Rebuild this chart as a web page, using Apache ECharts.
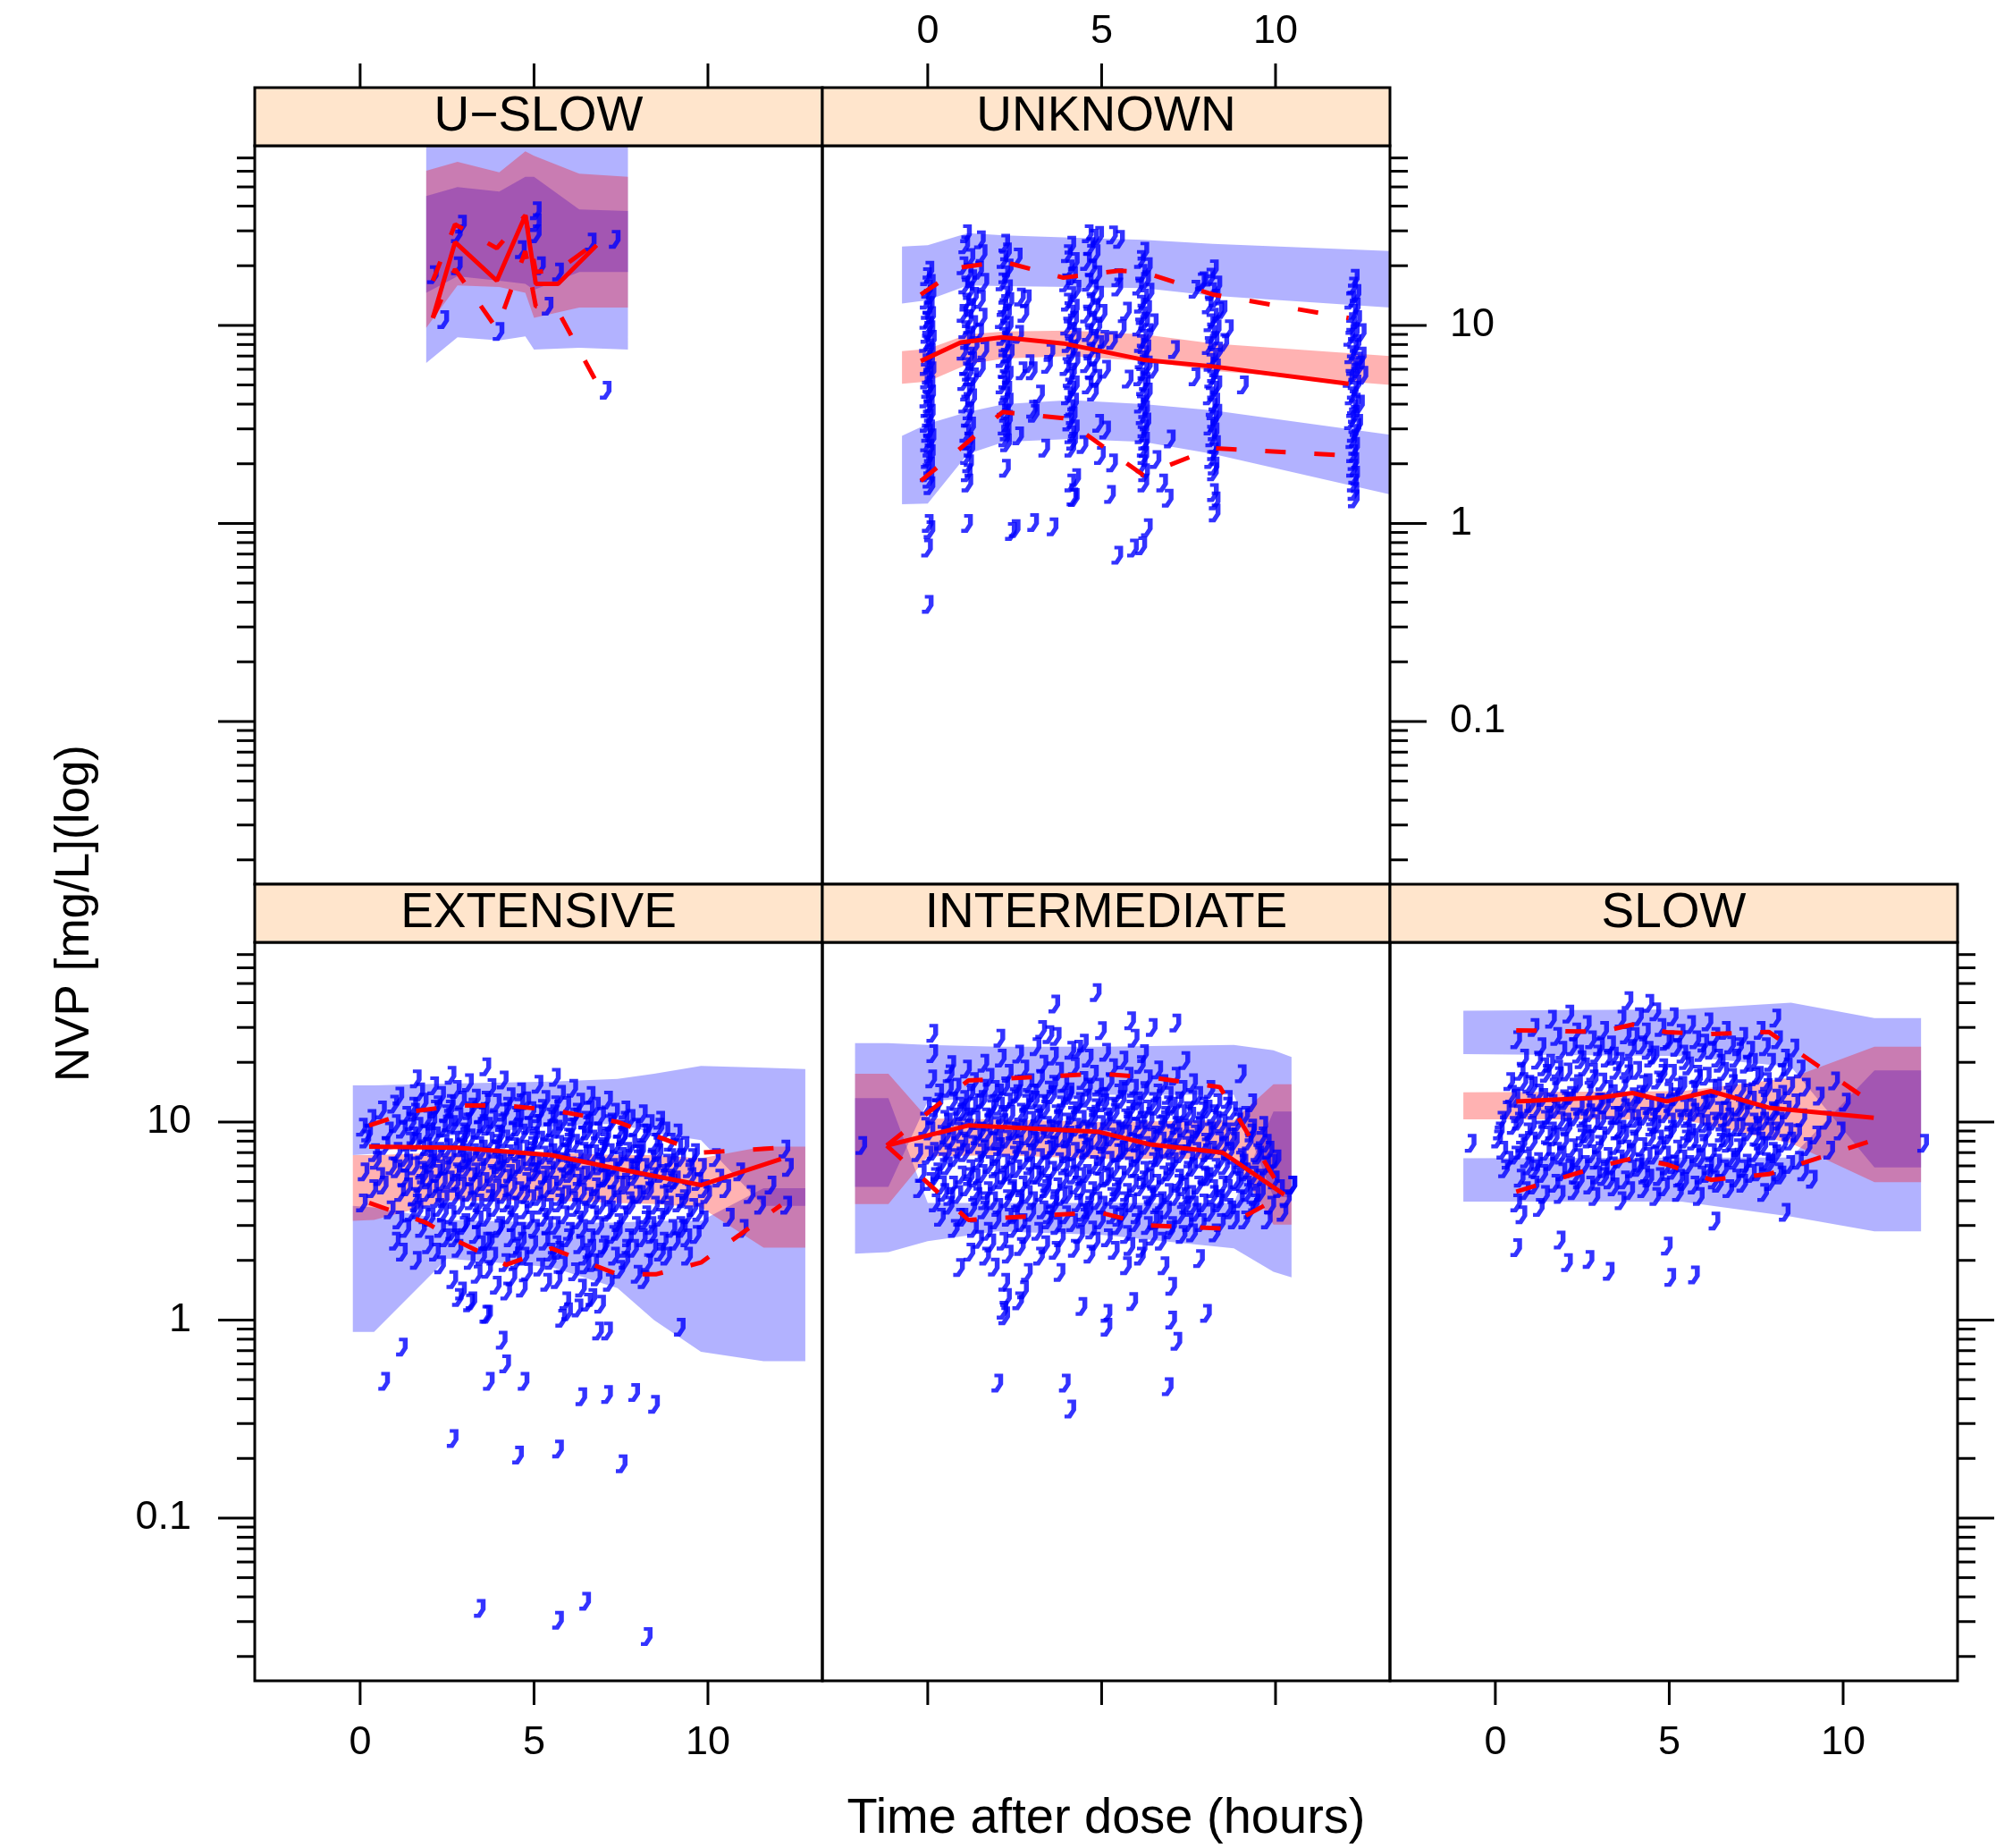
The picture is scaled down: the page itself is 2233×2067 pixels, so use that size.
<!DOCTYPE html>
<html><head><meta charset="utf-8">
<script src="https://cdn.jsdelivr.net/npm/echarts@6/dist/echarts.min.js"></script>
<style>html,body{margin:0;padding:0;background:#fff}#c{width:2233px;height:2067px}</style>
</head><body><div id="c"></div>
<script>
// ---------------- text / ticks ----------------
const panelNames = ['U\u2212SLOW', 'UNKNOWN', 'EXTENSIVE', 'INTERMEDIATE', 'SLOW'];
const xTitle = 'Time after dose (hours)';
const yTitle = 'NVP [mg/L](log)';
const xTicks = [0, 5, 10];
const xTickLabels = ['0', '5', '10'];
const yMajorTicks = [0.1, 1, 10];
const yTickLabels = ['0.1', '1', '10'];
const yMinorTicks = [0.02,0.03,0.04,0.05,0.06,0.07,0.08,0.09,0.2,0.3,0.4,0.5,0.6,0.7,0.8,0.9,2,3,4,5,6,7,8,9,20,30,40,50,60,70];

// ---------------- U-SLOW ----------------
const usBandX = [1.9, 2.8, 4.0, 4.75, 5.0, 6.3, 7.7];
const usP95Hi = [100, 100, 100, 100, 100, 100, 100];
const usP95Lo = [14.6, 17.7, 16.8, 16.2, 15.1, 18.6, 18.6];
const usMedHi = [60.4, 67, 59.3, 75.7, 71.8, 58.3, 56.3];
const usMedLo = [9.7, 15.9, 15.6, 14.6, 10.9, 12.3, 12.3];
const usP5Hi = [45, 49.9, 47.4, 56.3, 56.3, 38.5, 37.8];
const usP5Lo = [6.46, 8.7, 8.4, 8.8, 7.55, 7.7, 7.55];
const usObsMed = [[2.09,10.9],[2.73,26.3],[3.93,16.8],[4.75,35.9],[5.05,16.2],[5.69,16.2],[6.8,25.4]];
const usObsP95 = [[2.09,16.8],[2.73,32.4],[3.93,24.5],[4.75,35.9],[5.05,18.6],[5.69,19],[6.8,26.3]];
const usObsP5 = [[2.09,10.9],[2.73,19.2],[3.93,9.6],[4.75,23.7],[5.05,12.5],[5.69,11.8],[6.8,5.15]];
const usPts = [[2.9,32.4],[2.78,29],[5.05,37.9],[5.05,29],[4.62,24.1],[6.63,26.3],[7.32,27.2],[2.09,18],[5.17,20],[5.69,18.6],[5.39,12.5],[2.39,10.7],[3.98,9.3],[7.06,4.7],[2.78,20],[5.05,33]];

// ---------------- UNKNOWN ----------------
const unBandX = [-0.74, 0.0, 1.15, 2.2, 4.1, 6.2, 8.2, 13.3];
const unP95Hi = [25, 25.4, 29.2, 28.5, 27.7, 27, 25.8, 23.7];
const unP95Lo = [12.9, 13.4, 15.9, 15.8, 15.6, 15.4, 14.1, 12.3];
const unMedHi = [7.4, 7.6, 9.0, 9.3, 9.4, 9.0, 8.1, 7.0];
const unMedLo = [5.07, 5.2, 6.35, 6.8, 7.0, 6.6, 5.9, 5.0];
const unP5Hi = [2.77, 3.18, 3.65, 4.0, 4.19, 4.0, 3.72, 2.8];
const unP5Lo = [1.25, 1.26, 2.24, 2.58, 2.67, 2.58, 2.24, 1.4];
const unObsMed = [[-0.2,6.6],[0.95,8.2],[2.15,8.7],[3.9,8.1],[6.2,6.7],[8.2,6.2],[12.1,5.07]];
const unObsP95 = [[-0.2,14.3],[0.95,19.6],[2.15,21],[3.9,17.4],[5.5,18.9],[6.2,18.6],[8.2,14.3],[12.1,10.9]];
const unObsP5 = [[-0.2,1.64],[0.95,2.4],[2.15,3.65],[3.9,3.4],[6.2,1.75],[8.2,2.4],[12.1,2.2]];
const unPts = [
[0.02,19],[-0.05,17.6],[0.06,16.3],[-0.02,15.2],[0.08,14.3],[-0.06,13.4],[0.03,12.6],[-0.03,11.9],[0.07,11.2],[-0.07,10.6],[0.01,10],[0.05,9.5],[-0.04,9],[0.09,8.5],[-0.08,8.1],[0.02,7.7],[0.06,7.3],[-0.03,6.9],[0.04,6.5],[-0.06,6.2],[0.08,5.9],[0,5.6],[-0.05,5.3],[0.05,5],[-0.02,4.75],[0.07,4.5],[-0.07,4.25],[0.03,4],[-0.04,3.8],[0.06,3.6],[0,3.4],[-0.06,3.2],[0.04,3],[-0.02,2.85],[0.08,2.7],[-0.05,2.55],[0.02,2.4],[0.06,2.25],[-0.03,2.1],[0.04,1.95],[-0.06,1.8],[0.02,1.67],[0.05,1.55],[0,1.0],[0.05,0.93],[-0.02,0.75],[0,0.39],
[1.1,29],[1.05,25.5],[1.2,22],[1.0,20],[1.15,18.5],[1.25,17.2],[1.05,16],[1.18,15],[1.3,14],[1.08,13.1],[1.22,12.3],[1.0,11.5],[1.15,10.8],[1.28,10.1],[1.05,9.5],[1.2,8.9],[1.1,8.4],[1.32,7.9],[1.0,7.4],[1.18,7],[1.25,6.6],[1.07,6.2],[1.15,5.8],[1.3,5.5],[1.02,5.2],[1.2,4.9],[1.1,4.6],[1.25,4.3],[1.05,4],[1.17,3.7],[1.12,3.4],[1.22,3.1],[1.08,2.85],[1.15,2.6],[1.2,2.4],[1.1,2.2],[1.16,2.0],[1.12,1.8],[1.14,1.6],[1.13,1.0],
[1.5,27],[1.55,23],[1.45,19],[1.6,16.5],[1.5,13.5],[1.55,11],[1.45,9.2],[1.6,7.5],[1.5,6.1],
[2.2,26],[2.25,23.5],[2.15,21.5],[2.3,19.5],[2.2,18],[2.12,16.6],[2.28,15.3],[2.2,14.2],[2.32,13.2],[2.15,12.3],[2.25,11.5],[2.1,10.7],[2.3,10],[2.2,9.4],[2.14,8.8],[2.27,8.2],[2.2,7.7],[2.33,7.2],[2.12,6.8],[2.24,6.4],[2.18,6],[2.3,5.6],[2.2,5.3],[2.12,5],[2.26,4.7],[2.2,4.4],[2.3,4.1],[2.15,3.85],[2.22,3.6],[2.28,3.35],[2.18,3.1],[2.24,2.9],[2.2,2.7],[2.25,2.55],[2.22,1.9],
[2.65,13.9],[2.7,5.9],[3.43,6.35],[3.5,7.3],[3.0,3.77],[3.05,3.6],[3.35,2.4],[2.6,2.77],[2.39,0.91],[3.03,1.01],[3.59,0.96],[2.6,9.0],[2.75,11.5],[2.56,22.1],[2.82,13.6],[2.9,6.4],[2.99,5.9],[3.2,4.5],[2.5,0.94],
[4.1,25.4],[4.0,23],[4.2,21],[4.05,19.3],[4.15,17.8],[3.95,16.4],[4.25,15.2],[4.1,14.1],[4.0,13.1],[4.2,12.2],[4.08,11.4],[4.18,10.6],[3.98,9.9],[4.12,9.3],[4.25,8.7],[4.02,8.1],[4.15,7.6],[4.08,7.1],[4.22,6.6],[3.96,6.2],[4.12,5.8],[4.05,5.4],[4.2,5.0],[4.1,4.7],[4.0,4.4],[4.18,4.1],[4.08,3.8],[4.14,3.5],[4.04,3.25],[4.2,3.0],[4.1,2.8],[4.15,2.6],[4.1,2.4],[4.1,1.6],[4.2,1.35],[4.24,1.7],[4.16,1.36],
[4.6,29],[4.75,27.5],[4.9,28.5],[4.65,25],[4.8,23],[4.55,21],[4.7,19.5],[4.85,18],[4.6,16.5],[4.75,15.3],[4.9,14.2],[4.65,13.2],[4.8,12.3],[4.55,11.4],[4.7,10.6],[4.85,9.9],[4.6,9.2],[4.75,8.6],[4.9,8.0],[4.65,7.4],[4.8,6.9],[4.55,6.4],[4.7,5.9],[4.85,5.4],[4.6,5.0],[4.75,4.6],[4.9,3.2],[4.45,2.5],[4.95,2.2],[5.0,11.5],[5.05,8.5],[5.1,6.0],
[6.2,23.7],[6.1,21.5],[6.3,19.8],[6.15,18.3],[6.25,17],[6.05,15.8],[6.35,14.7],[6.2,13.7],[6.1,12.8],[6.28,12],[6.15,11.2],[6.22,10.5],[6.05,9.8],[6.32,9.2],[6.18,8.6],[6.1,8.1],[6.26,7.6],[6.2,7.1],[6.12,6.7],[6.3,6.3],[6.2,5.9],[6.08,5.5],[6.24,5.2],[6.16,4.9],[6.3,4.6],[6.2,4.3],[6.1,4.0],[6.22,3.75],[6.15,3.5],[6.26,3.25],[6.2,3.0],[6.12,2.8],[6.22,2.6],[6.18,2.4],[6.2,2.2],[6.15,2.0],[6.22,1.8],[6.2,1.6],
[5.3,28.6],[5.5,27.2],[5.45,17.4],[5.45,15.6],[5.7,11.8],[5.55,9.6],[5.3,8.4],[7.08,7.55],[7.67,5.5],[5.75,5.35],[6.47,10.3],[6.47,6.0],[5.1,2.96],[5.3,2.02],[6.96,2.67],[6.74,1.6],[6.9,1.34],[5.24,1.4],[6.3,0.95],[6.14,0.77],[5.45,0.69],[9.06,5.0],[8.63,9.6],[7.67,15.2],[7.85,16.6],[5.9,0.75],[6.55,2.1],
[8.2,19.3],[8.1,17.5],[8.3,16],[8.15,14.8],[8.25,13.7],[8.05,12.7],[8.35,11.8],[8.2,11],[8.1,10.3],[8.28,9.6],[8.15,9],[8.22,8.4],[8.05,7.9],[8.32,7.4],[8.18,6.9],[8.1,6.5],[8.26,6.1],[8.2,5.7],[8.12,5.35],[8.3,5.0],[8.2,4.7],[8.08,4.4],[8.24,4.1],[8.16,3.85],[8.3,3.6],[8.2,3.35],[8.1,3.1],[8.22,2.9],[8.15,2.7],[8.26,2.5],[8.2,2.3],[8.12,2.1],[8.22,1.95],[8.2,1.82],[8.2,1.43],[8.25,1.13],[8.25,1.3],[7.9,16.8],[8.45,12],[8.5,8.2],
[12.25,17.3],[12.2,15.8],[12.3,14.5],[12.15,13.4],[12.28,12.4],[12.2,11.5],[12.32,10.7],[12.18,10],[12.25,9.3],[12.12,8.7],[12.3,8.1],[12.22,7.6],[12.15,7.1],[12.34,6.6],[12.2,6.2],[12.26,5.8],[12.1,5.4],[12.3,5.05],[12.22,4.7],[12.16,4.4],[12.28,4.1],[12.2,3.8],[12.25,3.55],[12.14,3.3],[12.3,3.05],[12.22,2.85],[12.18,2.65],[12.26,2.45],[12.2,2.25],[12.24,2.05],[12.2,1.9],[12.26,1.75],[12.22,1.6],[12.24,1.45],[12.25,1.33],[12.45,7.0],[12.5,5.6],[12.4,4.0],[12.45,9.2],[12.4,6.3],[12.35,3.2]
];

// ---------------- EXTENSIVE ----------------
const exBandX = [-0.21, 0.4, 2.5, 5.5, 7.4, 8.45, 9.8, 11.6, 12.8];
const exP95Hi = [15.3, 15.3, 15.6, 16.0, 16.5, 17.5, 19.2, 18.8, 18.5];
const exP95Lo = [6.8, 6.9, 8.5, 9.5, 9.8, 8.8, 8.1, 3.77, 3.77];
const exMedHi = [6.8, 6.8, 7.0, 7.0, 6.8, 6.8, 6.55, 7.5, 7.5];
const exMedLo = [3.17, 3.2, 4.0, 4.0, 3.9, 3.85, 3.7, 2.32, 2.32];
const exP5Hi = [3.77, 3.7, 3.2, 3.1, 3.1, 3.17, 3.17, 4.63, 4.63];
const exP5Lo = [0.87, 0.87, 2.04, 1.85, 1.45, 1.0, 0.69, 0.62, 0.62];
const exObsMed = [[0.26,7.5],[2.8,7.4],[5.5,6.8],[7.4,5.8],[9.8,4.8],[12.1,6.5]];
const exObsP95 = [[0.26,9.6],[1.5,11.3],[2.8,12.1],[4.2,12.1],[5.5,11.5],[7.4,10.0],[9.8,7.0],[12.1,7.4]];
const exObsP5 = [[0.26,3.9],[1.9,3.1],[2.8,2.5],[4.2,1.9],[5.5,2.3],[7.4,1.7],[8.5,1.7],[9.8,1.95],[12.1,3.8]];
const exPts = [
[0.05,9.4],[0.3,10.4],[0.15,8.2],[0.4,7.0],[0.1,5.6],[0.35,4.6],[0.05,3.9],[0.45,6.4],[0.2,8.8],
[0.6,11.5],[0.8,9.0],[0.7,7.6],[0.9,6.0],[0.65,4.8],[0.85,3.6],[0.95,12.3],[0.55,5.3],
[1.1,13.5],[1.3,10.8],[1.2,9.2],[1.4,8.0],[1.05,7.1],[1.35,6.2],[1.25,5.2],[1.15,4.4],[1.45,3.5],[1.3,2.9],[1.0,2.5],[1.2,2.2],
[1.6,16.5],[1.7,14.2],[1.8,12.6],[1.55,11.2],[1.9,10.4],[1.65,9.5],[1.85,8.7],[1.6,7.9],[1.75,7.2],[1.95,6.6],[1.55,6.0],[1.8,5.4],[1.7,4.9],[1.9,4.4],[1.6,3.9],[1.85,3.4],[1.75,2.9],[1.95,2.4],[1.6,2.0],
[2.1,15.2],[2.3,13.6],[2.2,12.2],[2.45,11.0],[2.05,10.1],[2.35,9.3],[2.15,8.5],[2.4,7.8],[2.25,7.1],[2.05,6.5],[2.45,6.0],[2.2,5.5],[2.35,5.0],[2.1,4.6],[2.4,4.1],[2.25,3.7],[2.0,3.3],[2.3,2.9],[2.45,2.6],[2.15,2.2],[2.3,1.9],
[2.6,17.2],[2.75,14.6],[2.9,12.9],[2.55,11.6],[2.8,10.6],[2.65,9.7],[2.95,8.9],[2.7,8.1],[2.85,7.4],[2.6,6.8],[2.95,6.2],[2.75,5.6],[2.55,5.1],[2.9,4.7],[2.7,4.2],[2.85,3.8],[2.6,3.4],[2.95,3.0],[2.7,2.6],[2.8,2.3],[2.65,1.6],[2.9,1.4],
[3.1,15.8],[3.3,13.2],[3.2,11.9],[3.45,10.9],[3.05,10.0],[3.35,9.1],[3.15,8.3],[3.4,7.6],[3.25,7.0],[3.05,6.4],[3.45,5.9],[3.2,5.3],[3.35,4.8],[3.1,4.4],[3.4,3.9],[3.25,3.5],[3.0,3.1],[3.3,2.7],[3.45,2.4],[3.15,2.0],[3.35,1.7],[3.2,1.25],
[3.6,19.0],[3.75,14.9],[3.9,12.5],[3.55,11.3],[3.8,10.3],[3.65,9.5],[3.95,8.7],[3.7,8.0],[3.85,7.3],[3.6,6.7],[3.95,6.1],[3.75,5.5],[3.55,5.0],[3.9,4.6],[3.7,4.1],[3.85,3.7],[3.6,3.3],[3.95,2.9],[3.7,2.5],[3.8,2.1],[3.65,1.8],[3.9,1.5],[3.6,1.07],
[4.1,16.3],[4.3,13.4],[4.2,12.0],[4.45,10.8],[4.05,9.9],[4.35,9.0],[4.15,8.2],[4.4,7.5],[4.25,6.9],[4.05,6.3],[4.45,5.8],[4.2,5.2],[4.35,4.7],[4.1,4.3],[4.4,3.8],[4.25,3.4],[4.0,3.0],[4.3,2.6],[4.45,2.3],[4.15,1.95],[4.35,1.65],[4.2,1.4],
[4.6,14.2],[4.75,12.8],[4.9,11.4],[4.55,10.5],[4.8,9.6],[4.65,8.8],[4.95,8.0],[4.7,7.3],[4.85,6.7],[4.6,6.1],[4.95,5.6],[4.75,5.0],[4.55,4.5],[4.9,4.1],[4.7,3.6],[4.85,3.2],[4.6,2.8],[4.95,2.4],[4.7,2.1],[4.8,1.75],[4.65,1.45],
[5.1,15.5],[5.3,13.0],[5.2,11.7],[5.45,10.6],[5.05,9.8],[5.35,8.9],[5.15,8.1],[5.4,7.4],[5.25,6.8],[5.05,6.2],[5.45,5.7],[5.2,5.1],[5.35,4.6],[5.1,4.2],[5.4,3.7],[5.25,3.3],[5.0,2.9],[5.3,2.5],[5.45,2.2],[5.15,1.85],[5.35,1.55],
[5.6,16.8],[5.75,13.8],[5.9,12.1],[5.55,11.0],[5.8,10.1],[5.65,9.2],[5.95,8.4],[5.7,7.7],[5.85,7.0],[5.6,6.4],[5.95,5.8],[5.75,5.3],[5.55,4.8],[5.9,4.3],[5.7,3.9],[5.85,3.4],[5.6,3.0],[5.95,2.6],[5.7,2.25],[5.8,1.9],[5.65,1.6],[5.9,1.25],
[6.1,14.8],[6.3,12.6],[6.2,11.2],[6.45,10.2],[6.05,9.4],[6.35,8.6],[6.15,7.8],[6.4,7.1],[6.25,6.5],[6.05,6.0],[6.45,5.4],[6.2,4.9],[6.35,4.4],[6.1,4.0],[6.4,3.6],[6.25,3.2],[6.0,2.8],[6.3,2.4],[6.45,2.1],[6.15,1.75],[6.35,1.45],[6.25,1.15],
[6.6,13.6],[6.75,12.0],[6.9,10.7],[6.55,9.8],[6.8,9.0],[6.65,8.2],[6.95,7.5],[6.7,6.9],[6.85,6.3],[6.6,5.7],[6.95,5.2],[6.75,4.7],[6.55,4.2],[6.9,3.8],[6.7,3.4],[6.85,3.0],[6.6,2.6],[6.95,2.3],[6.7,1.95],[6.8,1.65],[6.65,1.3],[6.9,1.2],
[7.1,12.9],[7.3,11.2],[7.2,10.0],[7.45,9.2],[7.05,8.5],[7.35,7.7],[7.15,7.0],[7.4,6.4],[7.25,5.9],[7.05,5.3],[7.45,4.8],[7.2,4.3],[7.35,3.9],[7.1,3.5],[7.4,3.1],[7.25,2.7],[7.0,2.4],[7.3,2.1],[7.45,1.8],[7.15,1.55],
[7.6,11.5],[7.75,10.4],[7.9,9.4],[7.55,8.6],[7.8,7.8],[7.65,7.1],[7.95,6.5],[7.7,5.9],[7.85,5.3],[7.6,4.8],[7.95,4.3],[7.75,3.8],[7.55,3.4],[7.9,3.0],[7.7,2.6],[7.85,2.3],[7.6,2.0],[7.95,1.7],
[8.1,11.0],[8.3,9.8],[8.2,8.8],[8.45,7.9],[8.05,7.2],[8.35,6.5],[8.15,5.9],[8.4,5.3],[8.25,4.8],[8.05,4.3],[8.45,3.8],[8.2,3.4],[8.35,3.0],[8.1,2.6],[8.4,2.3],[8.25,1.95],[8.15,1.6],
[8.6,10.2],[8.75,9.0],[8.9,7.9],[8.55,7.0],[8.8,6.2],[8.65,5.5],[8.95,4.9],[8.7,4.3],[8.85,3.8],[8.6,3.3],[8.95,2.9],[8.7,2.5],[8.8,2.1],
[9.1,8.8],[9.3,7.6],[9.2,6.6],[9.45,5.8],[9.05,5.1],[9.35,4.5],[9.15,3.9],[9.4,3.4],[9.25,2.9],[9.05,2.5],[9.4,2.1],
[9.6,7.0],[9.8,5.9],[9.7,5.0],[9.95,4.3],[9.55,3.7],[9.85,3.2],[9.65,2.7],
[10.3,5.2],[10.5,4.6],[10.9,5.6],[11.2,4.3],[11.5,3.8],[11.8,4.8],[12.2,7.3],[12.3,5.9],[12.25,3.8],[10.6,3.3],[11.0,2.9],[10.2,6.6],
[1.2,0.73],[0.69,0.49],[3.7,0.49],[4.7,0.49],[4.07,0.79],[4.17,0.6],[6.36,0.41],[7.1,0.42],[7.88,0.43],[8.45,0.375],[6.84,0.88],[7.1,0.88],[9.19,0.92],[3.65,1.07],[3.13,1.22],[2.81,1.3],[5.95,1.1],[6.52,1.23],[5.78,1.02],[2.66,0.252],[4.54,0.208],[5.69,0.223],[7.52,0.188],[3.44,0.035],[5.69,0.0305],[6.47,0.038],[8.24,0.0252]
];
const exPtsCore = [
[1.0,9.8],[1.5,8.5],[1.25,6.6],[1.75,5.7],[1.35,4.7],[1.65,3.6],[1.1,3.2],[1.45,10.0],[1.9,7.5],[1.5,12.0],[1.95,5.1],[1.55,4.2],[1.05,5.8],
[2.0,8.9],[2.5,7.4],[2.28,5.8],[2.72,4.9],[2.38,3.5],[2.62,2.8],[2.12,11.6],[2.52,9.9],[2.88,6.5],[2.18,4.1],[2.58,12.4],[2.92,8.1],[2.02,6.2],
[3.0,8.7],[3.5,7.3],[3.28,5.6],[3.72,4.4],[3.38,3.2],[3.62,2.5],[3.12,11.4],[3.52,9.8],[3.88,6.4],[3.18,4.0],[3.58,12.9],[3.92,7.8],[3.02,5.8],[3.48,2.1],
[4.0,8.6],[4.5,7.1],[4.28,5.5],[4.72,4.3],[4.38,3.1],[4.62,2.5],[4.12,11.2],[4.52,9.4],[4.88,6.3],[4.18,3.9],[4.58,12.5],[4.92,7.6],[4.02,5.7],[4.48,2.0],
[5.0,8.5],[5.5,7.0],[5.28,5.4],[5.72,4.2],[5.38,3.0],[5.62,2.4],[5.12,11.0],[5.52,9.3],[5.88,6.2],[5.18,3.8],[5.58,12.2],[5.92,7.5],[5.02,5.6],[5.48,2.0],
[6.0,8.3],[6.5,6.9],[6.28,5.3],[6.72,4.1],[6.38,2.9],[6.62,2.3],[6.12,10.6],[6.52,9.0],[6.88,6.0],[6.18,3.7],[6.58,11.5],[6.92,7.3],[6.02,5.5],[6.48,1.9],
[7.0,7.9],[7.5,6.7],[7.28,5.1],[7.72,4.0],[7.38,2.8],[7.62,2.3],[7.12,9.8],[7.52,8.4],[7.88,5.7],[7.18,3.6],[7.58,10.2],[7.92,6.9],[7.02,5.2],
[8.0,6.9],[8.5,6.0],[8.28,4.5],[8.72,3.6],[8.38,2.7],[8.62,2.2],[8.12,8.8],[8.52,7.6],[8.88,5.2],[8.18,3.2],[8.58,9.4],[8.92,6.6],
[9.0,6.0],[9.5,5.3],[9.28,4.1],[9.72,3.5],[9.38,2.6],[9.12,7.4],[9.52,6.6],[9.88,4.6],[9.18,3.0]
];

// ---------------- INTERMEDIATE ----------------
const inBandX = [-2.09, -1.13, 0.0, 2.0, 5.0, 8.8, 9.94, 10.46];
const inP95Hi = [25, 25, 24.5, 24, 24, 24.5, 23, 21.3];
const inP95Lo = [4.7, 4.7, 12.7, 13.5, 13.7, 13.7, 4.17, 4.17];
const inMedHi = [17.5, 17.5, 10.4, 10.3, 10.0, 10.2, 15.5, 15.5];
const inMedLo = [3.85, 3.85, 6.7, 6.8, 6.5, 6.5, 3.03, 3.03];
const inP5Hi = [13.2, 13.2, 3.9, 3.9, 3.9, 3.9, 11.3, 11.3];
const inP5Lo = [2.16, 2.2, 2.5, 2.8, 2.69, 2.3, 1.75, 1.64];
const inObsMed = [[-1.18,7.6],[1.17,9.6],[4.93,8.9],[6.39,7.7],[8.48,7.0],[10.25,4.3]];
const inObsP95 = [[-1.18,7.6],[1.17,16.2],[4.93,17.5],[6.39,16.8],[8.4,15.0],[10.25,4.3]];
const inObsP5 = [[-1.18,7.6],[1.17,3.2],[4.93,3.5],[6.39,3.0],[8.48,2.9],[10.25,4.3]];
const inPts = [
[-1.91,7.6],[10.46,4.8],
[-0.3,7.0],[-0.1,9.5],[-0.2,5.5],[-0.05,12.0],[-0.25,4.6],
[0.1,16.5],[0.3,14.0],[0.2,11.8],[0.45,10.3],[0.05,9.0],[0.35,8.0],[0.15,7.1],[0.4,6.3],[0.25,5.6],[0.05,5.0],[0.45,4.4],[0.2,3.9],[0.35,3.3],[0.13,28],[0.13,22.1],
[0.6,17.5],[0.8,15.0],[0.7,12.8],[0.95,11.2],[0.55,10.0],[0.85,9.0],[0.65,8.1],[0.9,7.3],[0.75,6.6],[0.55,6.0],[0.95,5.4],[0.7,4.8],[0.85,4.3],[0.6,3.8],[0.9,3.3],[0.75,2.9],[0.9,1.84],[0.65,19.5],
[1.1,18.5],[1.3,16.0],[1.2,14.0],[1.45,12.5],[1.05,11.3],[1.35,10.2],[1.15,9.3],[1.4,8.5],[1.25,7.7],[1.05,7.0],[1.45,6.4],[1.2,5.8],[1.35,5.2],[1.1,4.7],[1.4,4.2],[1.25,3.7],[1.0,3.3],[1.3,2.9],[1.45,2.55],[1.2,2.2],
[1.6,19.8],[1.75,16.8],[1.9,14.6],[1.55,13.0],[1.8,11.7],[1.65,10.6],[1.95,9.6],[1.7,8.8],[1.85,8.0],[1.6,7.3],[1.95,6.7],[1.75,6.1],[1.55,5.5],[1.9,5.0],[1.7,4.5],[1.85,4.0],[1.6,3.6],[1.95,3.2],[1.7,2.8],[1.8,2.45],[1.65,2.1],[1.9,1.85],[2.06,26.5],
[2.1,21],[2.3,17.6],[2.2,15.2],[2.45,13.4],[2.05,12.0],[2.35,10.9],[2.15,9.9],[2.4,9.0],[2.25,8.2],[2.05,7.5],[2.45,6.8],[2.2,6.2],[2.35,5.6],[2.1,5.1],[2.4,4.6],[2.25,4.1],[2.0,3.7],[2.3,3.3],[2.45,2.9],[2.15,2.5],[2.3,2.15],[2.2,1.55],[2.25,1.3],[2.15,1.12],[2.2,1.05],[2.0,0.48],
[2.6,22],[2.75,18.5],[2.9,15.8],[2.55,13.9],[2.8,12.4],[2.65,11.2],[2.95,10.2],[2.7,9.3],[2.85,8.5],[2.6,7.7],[2.95,7.0],[2.75,6.4],[2.55,5.8],[2.9,5.3],[2.7,4.8],[2.85,4.3],[2.6,3.9],[2.95,3.5],[2.7,3.1],[2.8,2.7],[2.65,2.35],[2.85,1.74],[2.74,1.42],[2.6,1.25],
[3.1,24],[3.26,29.3],[3.3,19.6],[3.2,16.6],[3.45,14.5],[3.05,12.9],[3.35,11.6],[3.15,10.5],[3.4,9.6],[3.25,8.7],[3.05,8.0],[3.45,7.2],[3.2,6.6],[3.35,6.0],[3.1,5.4],[3.4,4.9],[3.25,4.4],[3.0,4.0],[3.3,3.6],[3.45,3.2],[3.15,2.8],[3.35,2.4],[3.2,2.1],[3.47,27.6],
[3.64,39.4],[3.68,27],[3.6,21.5],[3.75,18.0],[3.9,15.6],[3.55,13.7],[3.8,12.2],[3.65,11.0],[3.95,10.0],[3.7,9.1],[3.85,8.3],[3.6,7.6],[3.95,6.9],[3.75,6.3],[3.55,5.7],[3.9,5.2],[3.7,4.7],[3.85,4.2],[3.6,3.8],[3.95,3.4],[3.7,3.0],[3.8,2.6],[3.65,2.25],[3.79,1.74],[3.94,0.48],
[4.1,23],[4.3,23.3],[4.46,25],[4.2,19.0],[4.45,16.2],[4.05,14.2],[4.35,12.7],[4.15,11.4],[4.4,10.3],[4.25,9.4],[4.05,8.6],[4.45,7.8],[4.2,7.1],[4.35,6.5],[4.1,5.9],[4.4,5.3],[4.25,4.8],[4.0,4.3],[4.3,3.9],[4.45,3.5],[4.15,3.1],[4.35,2.7],[4.2,2.3],[4.42,1.17],[4.1,0.355],
[4.83,45],[4.98,28.9],[4.6,21],[4.75,17.4],[4.9,15.0],[4.55,13.2],[4.8,11.8],[4.65,10.7],[4.95,9.7],[4.7,8.9],[4.85,8.1],[4.6,7.4],[4.95,6.7],[4.75,6.1],[4.55,5.5],[4.9,5.0],[4.7,4.5],[4.85,4.0],[4.6,3.6],[4.95,3.2],[4.7,2.85],[4.8,2.5],[4.65,2.15],
[5.1,22.5],[5.3,18.8],[5.2,16.0],[5.45,14.0],[5.05,12.5],[5.35,11.2],[5.15,10.1],[5.4,9.2],[5.25,8.4],[5.05,7.7],[5.45,7.0],[5.2,6.4],[5.35,5.8],[5.1,5.2],[5.4,4.7],[5.25,4.2],[5.0,3.8],[5.3,3.4],[5.45,3.0],[5.15,2.6],[5.35,2.25],[5.14,1.08],[5.14,0.92],
[5.82,32.4],[5.92,26.5],[5.6,20.5],[5.75,17.0],[5.9,14.8],[5.55,13.0],[5.8,11.6],[5.65,10.5],[5.95,9.5],[5.7,8.7],[5.85,7.9],[5.6,7.2],[5.95,6.6],[5.75,6.0],[5.55,5.4],[5.9,4.9],[5.7,4.4],[5.85,3.9],[5.6,3.5],[5.95,3.1],[5.7,2.7],[5.8,2.35],[5.7,1.88],[5.88,1.24],
[6.44,30],[6.19,22.1],[6.1,19.5],[6.3,16.5],[6.2,14.4],[6.45,12.7],[6.05,11.3],[6.35,10.2],[6.15,9.2],[6.4,8.4],[6.25,7.6],[6.05,6.9],[6.45,6.3],[6.2,5.7],[6.35,5.2],[6.1,4.7],[6.4,4.2],[6.25,3.8],[6.0,3.4],[6.3,3.0],[6.45,2.65],[6.15,2.3],[6.1,2.1],
[6.6,18.3],[6.75,15.6],[6.9,13.6],[6.55,12.0],[6.8,10.8],[6.65,9.7],[6.95,8.8],[6.7,8.0],[6.85,7.3],[6.6,6.6],[6.95,6.0],[6.75,5.4],[6.55,4.9],[6.9,4.4],[6.7,4.0],[6.85,3.6],[6.6,3.2],[6.95,2.85],[6.7,2.5],[6.78,1.88],[7.0,1.48],[7.0,1.0],[6.9,0.46],
[7.12,31.6],[7.38,20.4],[7.1,17.0],[7.3,14.6],[7.2,12.8],[7.45,11.4],[7.05,10.3],[7.35,9.3],[7.15,8.4],[7.4,7.6],[7.25,6.9],[7.05,6.3],[7.45,5.7],[7.2,5.2],[7.35,4.7],[7.1,4.2],[7.4,3.8],[7.25,3.4],[7.0,3.0],[7.3,2.7],[7.15,0.78],
[7.6,15.8],[7.75,13.6],[7.9,12.0],[7.55,10.7],[7.8,9.6],[7.65,8.7],[7.95,7.9],[7.7,7.1],[7.85,6.5],[7.6,5.9],[7.95,5.3],[7.75,4.8],[7.55,4.3],[7.9,3.9],[7.7,3.5],[7.85,3.1],[7.6,2.75],[7.8,2.04],[8.0,1.08],
[8.1,14.6],[8.3,12.5],[8.2,11.0],[8.45,9.8],[8.05,8.9],[8.35,8.0],[8.15,7.2],[8.4,6.5],[8.25,5.9],[8.05,5.3],[8.45,4.8],[8.2,4.3],[8.35,3.9],[8.1,3.5],[8.4,3.1],[8.25,2.75],
[8.6,13.0],[8.75,11.4],[8.9,10.0],[8.55,8.9],[8.8,8.0],[8.65,7.1],[8.95,6.4],[8.7,5.7],[8.85,5.1],[8.6,4.6],[8.95,4.1],[8.7,3.6],[8.8,3.2],[9.0,17.5],
[9.1,10.8],[9.3,9.3],[9.2,8.0],[9.45,7.0],[9.05,6.2],[9.35,5.4],[9.15,4.8],[9.4,4.2],[9.25,3.6],[9.1,3.2],[9.3,12.5],
[9.6,8.5],[9.8,7.2],[9.7,6.0],[9.95,5.1],[9.55,4.4],[9.85,3.8],[10.1,4.6],[10.3,4.1],[10.45,4.8],[10.2,3.5],[9.75,3.2],[10.0,6.5]
];
const inPtsCore = [
[0.0,6.8],[0.5,8.6],[0.28,12.6],[0.72,10.6],[0.38,4.8],[0.62,4.2],[0.12,10.8],[0.52,7.0],[0.88,12.0],[0.18,5.3],[0.58,14.8],
[1.0,8.0],[1.5,9.0],[1.28,12.0],[1.72,10.0],[1.38,4.5],[1.62,4.0],[1.12,10.6],[1.52,7.0],[1.88,12.4],[1.18,5.3],[1.58,14.8],[1.92,5.8],[1.02,13.0],
[2.0,8.0],[2.5,9.0],[2.28,12.6],[2.72,10.6],[2.38,4.5],[2.62,4.1],[2.12,10.9],[2.52,7.2],[2.88,13.0],[2.18,5.4],[2.58,15.5],[2.92,6.0],[2.02,14.0],[2.48,3.4],
[3.0,8.3],[3.5,9.2],[3.28,12.4],[3.72,10.4],[3.38,4.6],[3.62,4.1],[3.12,11.0],[3.52,7.3],[3.88,13.2],[3.18,5.4],[3.58,15.5],[3.92,6.0],[3.02,14.0],[3.48,3.4],
[4.0,8.2],[4.5,9.2],[4.28,12.2],[4.72,10.4],[4.38,4.5],[4.62,4.1],[4.12,10.8],[4.52,7.2],[4.88,13.0],[4.18,5.4],[4.58,15.0],[4.92,6.0],[4.02,13.6],[4.48,3.3],
[5.0,8.0],[5.5,9.0],[5.28,12.0],[5.72,10.2],[5.38,4.4],[5.62,4.0],[5.12,10.6],[5.52,7.0],[5.88,12.8],[5.18,5.3],[5.58,14.6],[5.92,5.8],[5.02,13.4],[5.48,3.3],
[6.0,7.8],[6.5,8.6],[6.28,11.6],[6.72,9.8],[6.38,4.3],[6.62,3.9],[6.12,10.2],[6.52,6.8],[6.88,12.2],[6.18,5.1],[6.58,14.0],[6.92,5.6],[6.02,12.8],[6.48,3.2],
[7.0,7.4],[7.5,8.2],[7.28,11.0],[7.72,9.2],[7.38,4.2],[7.62,3.8],[7.12,9.6],[7.52,6.5],[7.88,11.4],[7.18,4.9],[7.58,13.0],[7.92,5.4],[7.02,12.0],[7.48,3.1],
[8.0,7.0],[8.5,7.6],[8.28,10.2],[8.72,8.4],[8.38,4.1],[8.62,3.7],[8.12,9.0],[8.52,6.0],[8.88,10.6],[8.18,4.6],[8.58,12.0],[8.92,5.0],[8.02,11.6],
[9.0,6.6],[9.5,6.8],[9.28,8.8],[9.72,7.8],[9.38,3.9],[9.12,5.6],[9.52,5.2],[9.88,6.2],[9.18,4.4],[9.62,9.6]
];

// ---------------- SLOW ----------------
const slBandX = [-0.92, 5.35, 8.5, 10.9, 12.24];
const slP95Hi = [36.4, 37, 40, 33.4, 33.4];
const slP95Lo = [22, 21.5, 19, 5.9, 5.9];
const slMedHi = [14.1, 14.3, 16.7, 24, 24];
const slMedLo = [10.3, 10.3, 7.8, 4.97, 4.97];
const slP5Hi = [6.55, 6.6, 6.6, 18.2, 18.2];
const slP5Lo = [3.96, 3.96, 3.33, 2.8, 2.8];
const slObsMed = [[0.6,12.7],[3.05,13.3],[3.94,14.0],[4.93,12.7],[6.2,14.3],[7.86,11.8],[10.88,10.5]];
const slObsP95 = [[0.6,29],[3.05,28.5],[3.94,31],[4.93,28.4],[6.2,27.8],[7.86,28.5],[10.88,12.3]];
const slObsP5 = [[0.6,4.45],[3.05,6.0],[3.94,6.55],[4.93,6.1],[6.2,5.1],[7.86,5.45],[10.88,8.1]];
const slPts = [
[0.1,9.0],[0.3,11.5],[0.2,7.2],[0.45,13.8],[0.05,8.2],[0.35,6.4],[0.4,16.0],[0.15,10.2],[0.25,5.8],
[0.6,26],[0.8,21],[0.7,18],[0.95,15.5],[0.55,13.2],[0.85,11.6],[0.65,10.1],[0.9,8.9],[0.75,7.8],[0.55,6.8],[0.95,6.0],[0.7,5.2],[0.85,4.5],[0.6,3.9],[0.75,3.4],[0.6,2.32],
[1.1,30],[1.3,24],[1.2,20.5],[1.45,17.6],[1.05,15.2],[1.35,13.3],[1.15,11.7],[1.4,10.3],[1.25,9.1],[1.05,8.0],[1.45,7.1],[1.2,6.3],[1.35,5.5],[1.1,4.8],[1.4,4.3],[1.25,3.7],
[1.6,33],[1.75,27],[1.9,23],[1.55,19.8],[1.8,17.1],[1.65,15.0],[1.95,13.1],[1.7,11.6],[1.85,10.2],[1.6,9.0],[1.95,8.0],[1.75,7.1],[1.55,6.3],[1.9,5.6],[1.7,4.9],[1.85,4.3],[1.85,2.53],
[2.1,35],[2.3,28.5],[2.2,24],[2.45,20.6],[2.05,17.9],[2.35,15.6],[2.15,13.6],[2.4,12.0],[2.25,10.6],[2.05,9.4],[2.45,8.3],[2.2,7.4],[2.35,6.6],[2.1,5.8],[2.4,5.1],[2.25,4.5],[2.06,1.95],
[2.6,31],[2.75,26],[2.9,22],[2.55,19.0],[2.8,16.5],[2.65,14.4],[2.95,12.6],[2.7,11.1],[2.85,9.8],[2.6,8.7],[2.95,7.7],[2.75,6.9],[2.55,6.1],[2.9,5.4],[2.7,4.8],[2.85,4.2],[2.68,2.02],
[3.1,29],[3.3,24.5],[3.2,21],[3.45,18.2],[3.05,15.9],[3.35,13.9],[3.15,12.2],[3.4,10.8],[3.25,9.6],[3.05,8.5],[3.45,7.6],[3.2,6.7],[3.35,6.0],[3.1,5.3],[3.4,4.7],[3.26,1.76],
[3.8,41],[3.6,33],[3.75,27.5],[3.9,23.5],[3.55,20.2],[3.8,17.5],[3.65,15.3],[3.95,13.4],[3.7,11.8],[3.85,10.4],[3.6,9.2],[3.95,8.2],[3.75,7.3],[3.55,6.5],[3.9,5.8],[3.7,5.1],[3.85,4.5],[3.6,4.0],
[4.4,39.7],[4.1,34],[4.3,28.5],[4.2,24.5],[4.45,21],[4.05,18.2],[4.35,15.8],[4.15,13.8],[4.4,12.1],[4.25,10.7],[4.05,9.5],[4.45,8.4],[4.2,7.5],[4.35,6.7],[4.1,5.9],[4.4,5.2],[4.25,4.6],
[4.6,36],[4.75,30],[4.9,25.5],[4.55,21.8],[4.8,18.8],[4.65,16.3],[4.95,14.2],[4.7,12.5],[4.85,11.0],[4.6,9.7],[4.95,8.6],[4.75,7.6],[4.55,6.8],[4.9,6.0],[4.7,5.3],[4.85,4.7],[4.6,4.2],[4.93,2.36],
[5.1,34],[5.3,28],[5.2,23.8],[5.45,20.4],[5.05,17.6],[5.35,15.3],[5.15,13.4],[5.4,11.8],[5.25,10.4],[5.05,9.2],[5.45,8.2],[5.2,7.3],[5.35,6.5],[5.1,5.7],[5.4,5.0],[5.25,4.4],[5.03,1.64],
[5.6,31],[5.75,26],[5.9,22.4],[5.55,19.2],[5.8,16.6],[5.65,14.5],[5.95,12.7],[5.7,11.2],[5.85,9.9],[5.6,8.8],[5.95,7.8],[5.75,6.9],[5.55,6.1],[5.9,5.4],[5.7,4.8],[5.85,4.2],[5.71,1.69],
[6.1,32],[6.3,27],[6.2,23],[6.45,19.8],[6.05,17.0],[6.35,14.8],[6.15,12.9],[6.4,11.4],[6.25,10.1],[6.05,8.9],[6.45,7.9],[6.2,7.0],[6.35,6.2],[6.1,5.5],[6.4,4.9],[6.3,3.16],
[6.6,29],[6.75,24.5],[6.9,21],[6.55,18.0],[6.8,15.6],[6.65,13.6],[6.95,12.0],[6.7,10.6],[6.85,9.4],[6.6,8.3],[6.95,7.4],[6.75,6.6],[6.55,5.8],[6.9,5.2],[6.7,4.6],
[7.1,27],[7.3,23],[7.2,19.6],[7.45,16.9],[7.05,14.7],[7.35,12.9],[7.15,11.3],[7.4,10.0],[7.25,8.9],[7.05,7.9],[7.45,7.0],[7.2,6.2],[7.35,5.5],[7.1,4.9],
[7.6,29],[7.75,24],[7.9,20],[7.55,17.2],[7.8,14.9],[7.65,13.0],[7.95,11.4],[7.7,10.1],[7.85,9.0],[7.6,8.0],[7.95,7.1],[7.75,6.3],[7.55,5.6],[7.9,5.0],[7.7,4.4],
[8.05,33.4],[8.1,26],[8.3,21],[8.2,17.8],[8.45,15.2],[8.05,13.2],[8.35,11.5],[8.15,10.1],[8.4,8.9],[8.25,7.8],[8.05,6.9],[8.45,6.1],[8.2,5.4],[8.32,3.5],
[8.57,23.6],[8.75,18.5],[8.9,15.0],[8.6,12.5],[8.8,10.5],[8.65,8.8],[8.95,7.5],[8.7,6.4],[8.85,5.6],
[9.1,5.14],[9.74,16.1],[10.05,12.6],[9.3,13.5],[9.5,10.2],[9.2,8.6],[9.6,7.2],[12.3,7.8],[-0.71,7.8],[9.9,9.0]
];
const slPtsCore = [
[0.5,9.6],[1.0,12.4],[0.78,16.0],[1.22,14.0],[0.88,6.5],[1.12,5.8],[0.62,11.0],[1.02,9.6],[1.38,19.0],[0.68,7.2],[1.48,8.6],
[1.5,10.8],[2.0,12.8],[1.78,18.5],[2.22,15.0],[1.88,6.8],[2.12,6.0],[1.62,12.4],[2.02,10.0],[2.38,22.0],[1.68,8.4],[2.48,9.0],[2.28,5.4],
[2.5,10.4],[3.0,12.6],[2.78,17.8],[3.22,14.6],[2.88,6.4],[3.12,5.8],[2.62,12.0],[3.02,10.2],[3.38,21.5],[2.68,8.2],[3.48,9.0],[3.28,5.1],[2.98,24.0],
[3.5,10.8],[4.0,12.8],[3.78,19.0],[4.22,15.5],[3.88,7.0],[4.12,6.2],[3.62,12.6],[4.02,10.4],[4.38,23.0],[3.68,8.6],[4.48,9.4],[4.28,5.4],[3.98,27.0],
[4.5,10.6],[5.0,12.4],[4.78,17.6],[5.22,15.0],[4.88,6.8],[5.12,6.1],[4.62,12.0],[5.02,10.0],[5.38,22.0],[4.68,8.2],[5.48,9.0],[5.28,5.2],[4.98,26.0],
[5.5,10.4],[6.0,12.2],[5.78,17.4],[6.22,14.8],[5.88,6.6],[6.12,6.0],[5.62,11.8],[6.02,9.8],[6.38,21.0],[5.68,8.0],[6.48,8.8],[6.28,5.1],[5.98,25.0],
[6.5,10.0],[7.0,11.8],[6.78,16.8],[7.22,14.0],[6.88,6.4],[7.12,5.8],[6.62,11.4],[7.02,9.4],[7.38,20.0],[6.68,7.8],[7.48,8.4],[6.98,24.0],
[7.5,9.6],[8.0,11.2],[7.78,16.0],[8.22,13.8],[7.88,6.2],[8.12,5.6],[7.62,11.0],[8.02,9.0],[8.38,19.0],[7.68,7.6],[8.48,8.0]
];

// ---------------- layout (pixels) ----------------
const PANEL_W = 635, PANEL_H = 826, STRIP_H = 65;
const COL_LEFT = [285, 920, 1555];
const ROW_TOP = [163, 1054];
const X_MIN = -3.03, X_MAX = 13.29, Y_MIN = 0.01507, Y_MAX = 80.7;
const FONT = '"Liberation Sans", Arial, Helvetica, sans-serif';
const BLUE_FILL = 'rgba(0,0,255,0.3)', RED_FILL = 'rgba(255,0,0,0.3)';
const GLYPH = 'path://M2.5,0 L10,0 L10,11.5 L5.5,20 L0,20 L0,15.8 L3,15.8 L5.8,10.6 L5.8,3.8 L2.5,3.8 Z';

const panels = [
  {col:0,row:0,xLab:false,yPos:'left', yLab:false,sides:['top','left'],
   bx:usBandX,b:[[usP95Lo,usP95Hi,BLUE_FILL],[usP5Lo,usP5Hi,BLUE_FILL],[usMedLo,usMedHi,RED_FILL]],
   med:usObsMed,p5:usObsP5,p95:usObsP95,pts:usPts},
  {col:1,row:0,xLab:true,yPos:'right',yLab:true,sides:['top','right'],
   bx:unBandX,b:[[unP95Lo,unP95Hi,BLUE_FILL],[unP5Lo,unP5Hi,BLUE_FILL],[unMedLo,unMedHi,RED_FILL]],
   med:unObsMed,p5:unObsP5,p95:unObsP95,pts:unPts},
  {col:0,row:1,xLab:true,yPos:'left', yLab:true,sides:['bottom','left'],
   bx:exBandX,b:[[exP95Lo,exP95Hi,BLUE_FILL],[exP5Lo,exP5Hi,BLUE_FILL],[exMedLo,exMedHi,RED_FILL]],
   med:exObsMed,p5:exObsP5,p95:exObsP95,pts:exPts.concat(exPtsCore)},
  {col:1,row:1,xLab:false,yPos:'left', yLab:false,sides:['bottom'],
   bx:inBandX,b:[[inP95Lo,inP95Hi,BLUE_FILL],[inP5Lo,inP5Hi,BLUE_FILL],[inMedLo,inMedHi,RED_FILL]],
   med:inObsMed,p5:inObsP5,p95:inObsP95,pts:inPts.concat(inPtsCore)},
  {col:2,row:1,xLab:true,yPos:'right',yLab:false,sides:['bottom','right'],
   bx:slBandX,b:[[slP95Lo,slP95Hi,BLUE_FILL],[slP5Lo,slP5Hi,BLUE_FILL],[slMedLo,slMedHi,RED_FILL]],
   med:slObsMed,p5:slObsP5,p95:slObsP95,pts:slPts.concat(slPtsCore)}
];

function fmtX(v){ const i = xTicks.findIndex(t => Math.abs(t - v) < 1e-6); return i >= 0 ? xTickLabels[i] : ''; }
function fmtY(v){ const i = yMajorTicks.findIndex(t => Math.abs(Math.log10(t) - Math.log10(v)) < 1e-6); return i >= 0 ? yTickLabels[i] : ''; }

const grid = [], xAxis = [], yAxis = [], series = [], graphic = [];
panels.forEach((p, g) => {
  const left = COL_LEFT[p.col], top = ROW_TOP[p.row];
  grid.push({left:left, top:top, width:PANEL_W, height:PANEL_H, containLabel:false, show:false});
  xAxis.push({gridIndex:g, type:'value', min:X_MIN, max:X_MAX, splitNumber:3,
    position: p.row === 0 ? 'top' : 'bottom',
    axisLine:{show:false}, axisTick:{show:false}, splitLine:{show:false},
    axisLabel:{show:p.xLab, margin: p.row === 0 ? 105 : 47, fontSize:45, fontFamily:FONT, color:'#000',
      formatter:fmtX, showMinLabel:false, showMaxLabel:false}});
  yAxis.push({gridIndex:g, type:'log', logBase:10, min:Y_MIN, max:Y_MAX, position:p.yPos,
    axisLine:{show:false}, axisTick:{show:false}, splitLine:{show:false},
    axisLabel:{show:p.yLab, margin: p.yPos === 'left' ? 71 : 67, fontSize:45, fontFamily:FONT, color:'#000',
      formatter:fmtY, showMinLabel:false, showMaxLabel:false}});

  // prediction-interval bands
  p.b.forEach(([lo, hi, fill]) => {
    const xs = p.bx;
    series.push({type:'custom', xAxisIndex:g, yAxisIndex:g, z:1, silent:true, clip:true,
      data:[[xs[0], lo[0]]],
      renderItem: function(params, api){
        const pts = [];
        for (let i = 0; i < xs.length; i++) pts.push(api.coord([xs[i], hi[i]]));
        for (let i = xs.length - 1; i >= 0; i--) pts.push(api.coord([xs[i], lo[i]]));
        const cs = params.coordSys;
        return {type:'polygon', shape:{points:pts}, style:{fill:fill, stroke:null},
          clipPath:{type:'rect', shape:{x:cs.x, y:cs.y, width:cs.width, height:cs.height}}};
      }});
  });
  // observations
  series.push({type:'scatter', xAxisIndex:g, yAxisIndex:g, z:2, silent:true, data:p.pts,
    symbol:GLYPH, symbolSize:[13,21], itemStyle:{color:'#0000ff'}});
  // observed percentiles
  [[p.med,'solid'],[p.p5,[23,32]],[p.p95,[23,32]]].forEach(([d, t]) => {
    series.push({type:'line', xAxisIndex:g, yAxisIndex:g, z:3, silent:true, data:d,
      showSymbol:false, symbol:'none', lineStyle:{color:'#ff0000', width:5, type:t, cap:'butt'}});
  });
  // tick marks
  const sides = p.sides;
  series.push({type:'custom', xAxisIndex:g, yAxisIndex:g, z:5, silent:true, clip:false,
    data:[[0, 1]],
    renderItem: function(params, api){
      const cs = params.coordSys, ch = [];
      const ln = (x1,y1,x2,y2) => ch.push({type:'line', shape:{x1,y1,x2,y2}, style:{stroke:'#000', lineWidth:3}});
      sides.forEach(s => {
        if (s === 'left' || s === 'right') {
          const x0 = s === 'left' ? cs.x : cs.x + cs.width, dir = s === 'left' ? -1 : 1;
          yMajorTicks.forEach(v => { const y = api.coord([0, v])[1]; ln(x0, y, x0 + dir*41, y); });
          yMinorTicks.forEach(v => { const y = api.coord([0, v])[1]; ln(x0, y, x0 + dir*20, y); });
        } else {
          const y0 = s === 'bottom' ? cs.y + cs.height : cs.y - STRIP_H, dir = s === 'bottom' ? 1 : -1;
          xTicks.forEach(v => { const x = api.coord([v, 1])[0]; ln(x, y0, x, y0 + dir*27); });
        }
      });
      return {type:'group', children:ch};
    }});

  // panel border + strip
  graphic.push({type:'rect', z:100, silent:true, shape:{x:left, y:top, width:PANEL_W, height:PANEL_H},
    style:{fill:'none', stroke:'#000', lineWidth:3}});
  graphic.push({type:'rect', z:100, silent:true, shape:{x:left, y:top - STRIP_H, width:PANEL_W, height:STRIP_H},
    style:{fill:'#FFE5CC', stroke:'#000', lineWidth:3}});
  graphic.push({type:'text', z:101, silent:true, x:left + PANEL_W/2, y:top - STRIP_H/2,
    style:{text:panelNames[g], font:'55px ' + FONT, fill:'#000', textAlign:'center', textVerticalAlign:'middle'}});
});

graphic.push({type:'text', z:101, silent:true, x:(COL_LEFT[0] + COL_LEFT[2] + PANEL_W)/2, y:2035,
  style:{text:xTitle, font:'56px ' + FONT, fill:'#000', textAlign:'center', textVerticalAlign:'middle'}});
graphic.push({type:'text', z:101, silent:true, x:84, y:(ROW_TOP[0] + ROW_TOP[1] + PANEL_H)/2, rotation:Math.PI/2,
  style:{text:yTitle, font:'53px ' + FONT, fill:'#000', textAlign:'center', textVerticalAlign:'middle'}});

const chart = echarts.init(document.getElementById('c'), null, {renderer:'canvas'});
chart.setOption({animation:false, backgroundColor:'#fff', grid, xAxis, yAxis, series, graphic});
</script></body></html>
